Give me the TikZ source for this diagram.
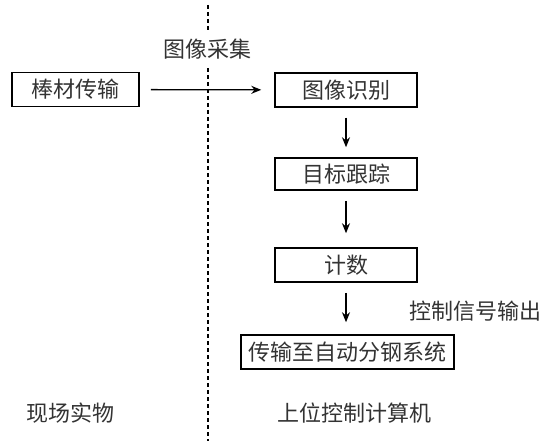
\documentclass[tikz,border=0pt]{standalone}
\usepackage{fontspec}
\setmainfont{Noto Sans CJK SC}
\usetikzlibrary{arrows.meta}
\begin{document}
\begin{tikzpicture}[x=1pt,y=-1pt,
  txt/.style={font=\fontsize{22}{24}\selectfont, text=black!80, inner sep=0pt},
  procbox/.style={txt, draw=black, line width=1.5pt, minimum height=34pt},
  flow/.style={-{Stealth[length=10pt,width=8pt]}, line width=1.3pt},
  divider/.style={dash pattern=on 4pt off 3pt, line width=1.3pt}]
\useasboundingbox (0,0) rectangle (546,441);
\coordinate (dtop) at (208,5);
\coordinate (dbot) at (208,441);
\draw[divider] (dtop) -- (dbot);
\node[txt, fill=white, inner xsep=2pt, inner ysep=9pt] (acq) at (207.5,49) {图像采集};
\node[procbox, minimum width=127pt] (bar) at (75.5,89.5) {棒材传输};
\node[procbox, minimum width=142pt] (rec) at (346,90) {图像识别};
\node[procbox, minimum width=142pt, minimum height=32pt] (trk) at (346,174) {目标跟踪};
\node[procbox, minimum width=142pt] (cnt) at (346,265) {计数};
\node[procbox, minimum width=213pt] (out) at (347.5,352) {传输至自动分钢系统};
\node[txt] (sig) at (475,311) {控制信号输出};
\node[txt] (site) at (70,413) {现场实物};
\node[txt] (host) at (354,413) {上位控制计算机};
\draw[flow, shorten <=11pt, shorten >=13pt] (bar) -- (rec);
\draw[flow, shorten <=10pt, shorten >=10pt] (rec) -- (trk);
\draw[flow, shorten <=10pt, shorten >=14pt] (trk) -- (cnt);
\draw[flow, shorten <=10pt, shorten >=12pt] (cnt.south) -- (cnt.south |- out.north);
\end{tikzpicture}
\end{document}
